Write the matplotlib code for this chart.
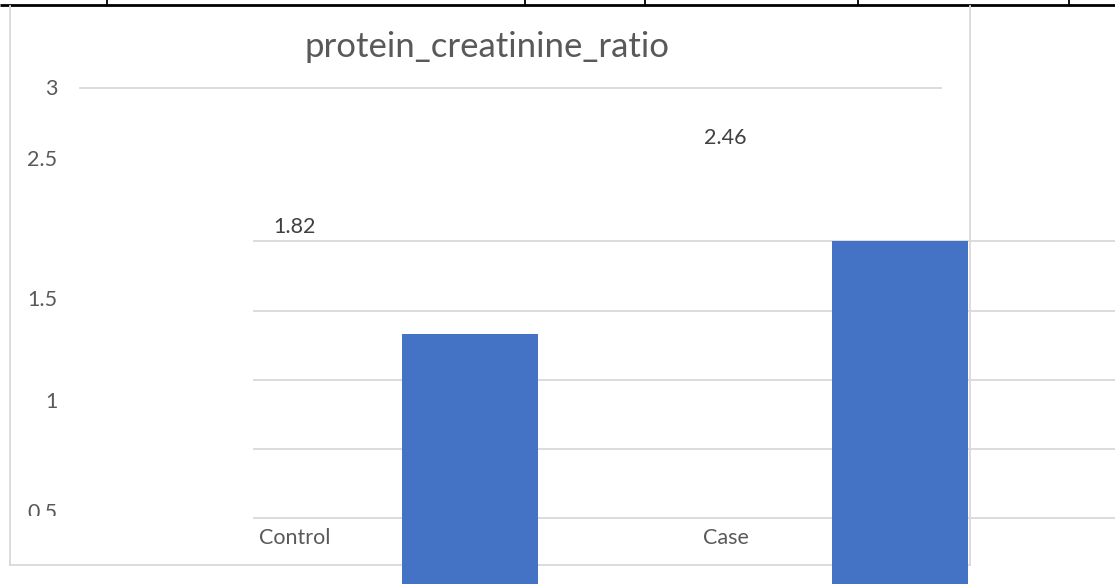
import matplotlib
matplotlib.use("Agg")
import matplotlib.pyplot as plt
from matplotlib.patches import Rectangle

# ---- data ----
categories = ["Control", "Case"]
values = [1.82, 2.46]
value_labels = ["1.82", "2.46"]
tick_labels = ["3", "2.5", "1.5", "1", "0.5"]
title = "protein_creatinine_ratio"

W, H = 1115, 584
fig = plt.figure(figsize=(W / 100, H / 100), dpi=100)
plt.rcParams['font.family'] = ['Lato', 'DejaVu Sans']

# pixel overlay axes (y down)
pax = fig.add_axes([0, 0, 1, 1])
pax.set_xlim(0, W)
pax.set_ylim(H, 0)
pax.axis("off")

# data axes for the bars
ax = fig.add_axes([0, 0, 1, 1])
ax.patch.set_alpha(0)
ax.axis("off")
# x: category index -> pixel centre 469.5 + 430.5*i
x0, xs = 469.5, 430.5
ax.set_xlim((0 - x0) / xs, (W - x0) / xs)
# y: value -> pixel 598.5 - 145.3*v
y0, ys = 598.5, 145.3
ax.set_ylim((y0 - H) / ys, y0 / ys)

grid_c = "#d9d9d9"
lw_grid = 1.3

# top table line with ticks
pax.plot([0, W], [5, 5], color="black", lw=2.0, zorder=1, solid_capstyle="butt")
for xt in [107, 525, 645, 858, 1069]:
    pax.plot([xt, xt], [0, 5], color="black", lw=1.3, zorder=1)

# chart border
pax.plot([10, 10], [6, 565], color=grid_c, lw=lw_grid, zorder=1)
pax.plot([970, 970], [6, 565], color=grid_c, lw=lw_grid, zorder=1)
pax.plot([10, 970], [565, 565], color=grid_c, lw=lw_grid, zorder=1)

# gridlines
pax.plot([80, 941], [88, 88], color=grid_c, lw=lw_grid, zorder=1)
for gy in [241, 311, 380, 449, 518]:
    pax.plot([254, W], [gy, gy], color=grid_c, lw=lw_grid, zorder=1)

# bars
ax.bar(range(len(categories)), values, width=136 / xs, color="#4472C4", zorder=3)

# title
pax.text(487, 56.7, title, ha="center", va="baseline", fontsize=25, color="#595959")

fs = 15.5
# tick labels
tick_y = [89, 159.7, 300, 402, 513]
for lab, ty in zip(tick_labels, tick_y):
    pax.text(57.5, ty, lab, ha="right", va="center", fontsize=fs, color="#595959", zorder=3)
# the "0.5" label is cut off at the bottom
pax.add_patch(Rectangle((20, 516), 60, 30, facecolor="white", edgecolor="none", zorder=5))

# value labels
lab_pos = [(294, 226.7), (725, 138.3)]
for lab, (lx, ly) in zip(value_labels, lab_pos):
    pax.text(lx, ly, lab, ha="center", va="center", fontsize=fs, color="#404040")

# category labels
cat_pos = [(259.3, 544), (703.3, 544)]
for lab, (cx, cy) in zip(categories, cat_pos):
    pax.text(cx, cy, lab, ha="left", va="baseline", fontsize=fs, color="#595959")

fig.savefig("out.png", dpi=100)
